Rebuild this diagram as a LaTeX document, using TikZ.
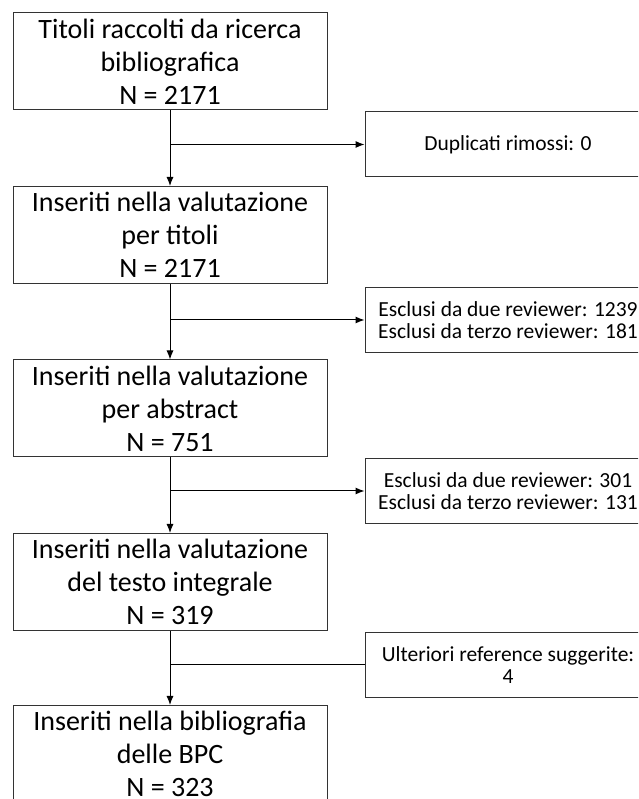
\documentclass[tikz,border=0pt]{standalone}
\usepackage{fontspec}
\setmainfont{Carlito}
\usetikzlibrary{positioning,arrows.meta}
\tikzset{>={Latex[length=9pt,width=7pt]}}

\begin{document}
\begin{tikzpicture}[x=1pt,y=1pt,
    stage/.style={draw=black!80,line width=1pt,minimum width=314pt,minimum height=97pt,
        align=center,inner sep=0pt,font=\fontsize{28}{33}\selectfont},
    side/.style={draw=black!80,line width=1pt,minimum width=286pt,minimum height=65pt,
        align=center,inner sep=0pt,font=\fontsize{21.5}{22.5}\selectfont}]
        % page frame
        \clip (0,0) rectangle (638,799);
        % main flow
        \node[stage] at (170,737.5) (T) {Titoli raccolti da ricerca\\bibliografica\\N = 2171};
        \node[stage] at (170,564) (VT) {Inseriti nella valutazione\\per titoli\\N = 2171};
        \node[stage] at (170,390.5) (VA) {Inseriti nella valutazione\\per abstract\\N = 751};
        \node[stage] at (170,217) (VI) {Inseriti nella valutazione\\del testo integrale\\N = 319};
        \node[stage] at (170,45) (B) {Inseriti nella bibliografia\\delle BPC\\N = 323};
        % side boxes
        \node[side] at (508,654.5) (D) {Duplicati rimossi: 0};
        \node[side] at (508,479) (E1) {Esclusi da due reviewer: 1239\\Esclusi da terzo reviewer: 181};
        \node[side] at (508,308) (E2) {Esclusi da due reviewer: 301\\Esclusi da terzo reviewer: 131};
        \node[side] at (508,134) (U) {Ulteriori reference suggerite:\\4};
        % connectors
        \draw[->,line width=1pt] (T) -- (VT);
        \draw[->,line width=1pt] (VT) -- (VA);
        \draw[->,line width=1pt] (VA) -- (VI);
        \draw[->,line width=1pt] (VI) -- (B);
        \draw[->,line width=1pt] (T.south |- D.west) -- (D);
        \draw[->,line width=1pt] (VT.south |- E1.west) -- (E1);
        \draw[->,line width=1pt] (VA.south |- E2.west) -- (E2);
        \draw[line width=1pt] (U.west) -- (VI.south |- U.west);
\end{tikzpicture}
\end{document}
